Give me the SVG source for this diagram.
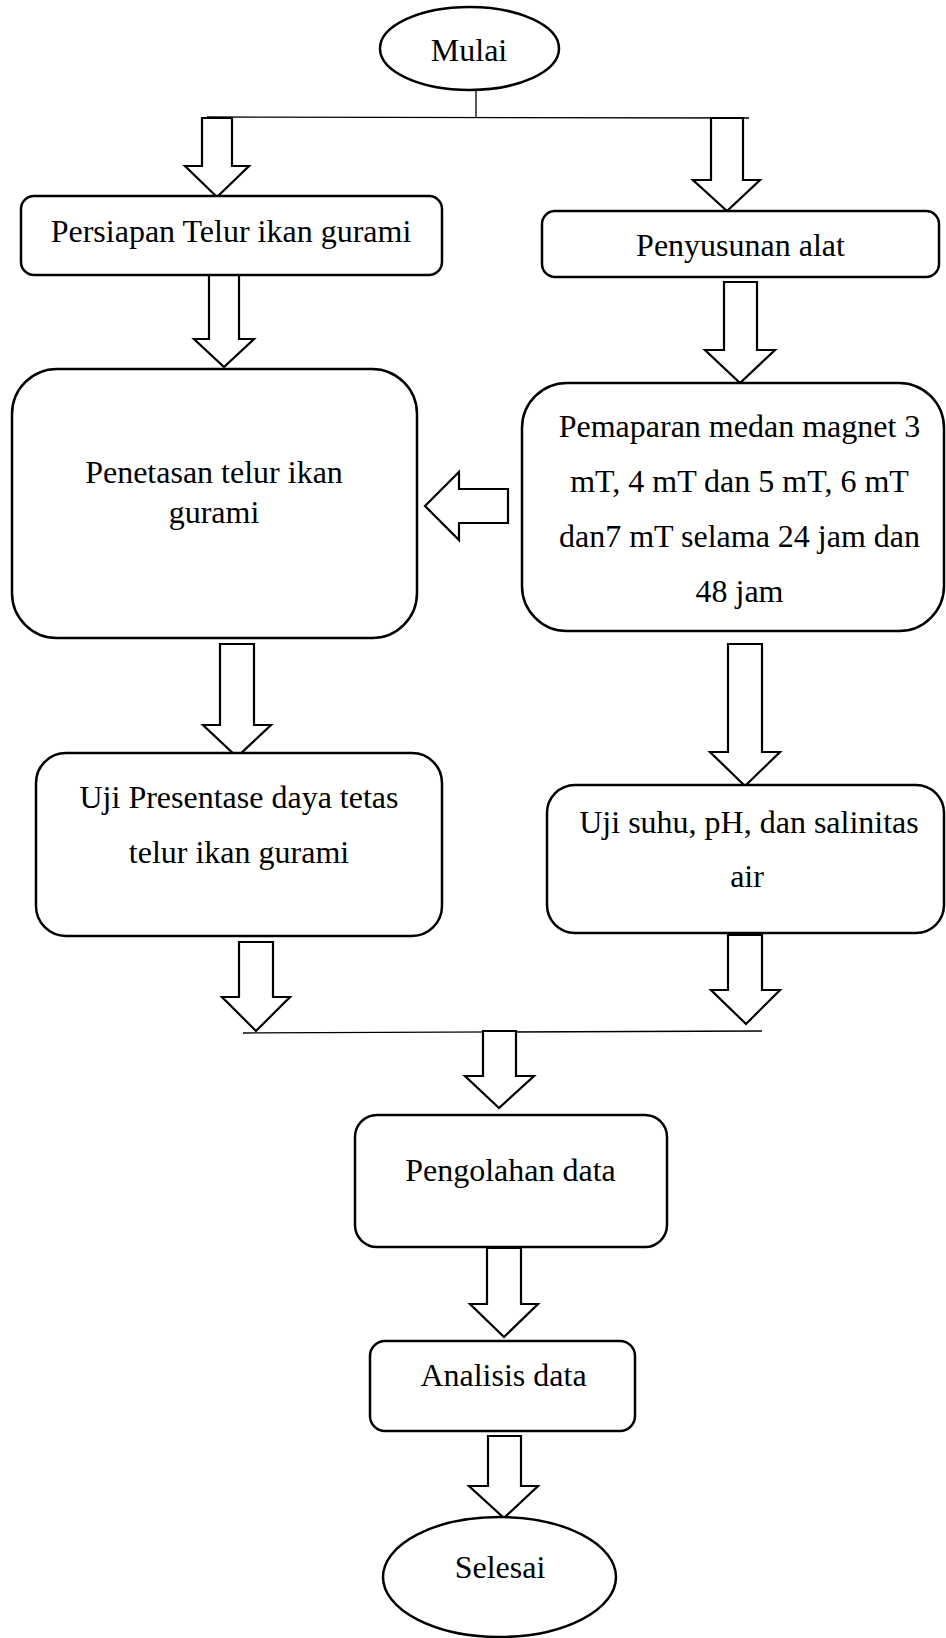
<svg xmlns="http://www.w3.org/2000/svg" width="946" height="1638" viewBox="0 0 946 1638">
<style>
.box{fill:#fff;stroke:#000;stroke-width:2.5}
.arr{fill:#fff;stroke:#000;stroke-width:2.2;stroke-linejoin:miter}
.ln{stroke:#000;stroke-width:1.3;fill:none}
text{font-family:"Liberation Serif","Times New Roman",serif;font-size:32px;fill:#000;text-anchor:middle}
</style>
<rect width="946" height="1638" fill="#fff"/>
<g id="connectors">
<line class="ln" x1="476" y1="90" x2="476" y2="118"/>
<line class="ln" x1="207" y1="117" x2="749" y2="118"/>
<line class="ln" x1="243" y1="1033" x2="762" y2="1031"/>
<polygon class="arr" points="202,118 232,118 232,166 249,166 217,197 185,166 202,166"/>
<polygon class="arr" points="711,118 743,118 743,180 760,180 727,211 693,180 711,180"/>
<polygon class="arr" points="209,275 239,275 239,339 254,339 224,367 194,339 209,339"/>
<polygon class="arr" points="724,282 757,282 757,350 775,350 740,383 705,350 724,350"/>
<polygon class="arr" points="508,489 508,523 459,523 459,540 425,506 459,472 459,489"/>
<polygon class="arr" points="220,644 254,644 254,725 271,725 237,757 203,725 220,725"/>
<polygon class="arr" points="728,644 762,644 762,752 780,752 745,786 710,752 728,752"/>
<polygon class="arr" points="239,942 273,942 273,997 290,997 256,1031 222,997 239,997"/>
<polygon class="arr" points="728,935 762,935 762,990 780,990 746,1024 711,990 728,990"/>
<polygon class="arr" points="483,1031 516,1031 516,1076 534,1076 499,1108 465,1076 483,1076"/>
<polygon class="arr" points="487,1248 521,1248 521,1304 538,1304 504,1337 470,1304 487,1304"/>
<polygon class="arr" points="488,1436 521,1436 521,1486 538,1486 504,1518 469,1486 488,1486"/>
</g>
<g id="mulai">
<ellipse class="box" cx="469.5" cy="48.5" rx="89.5" ry="41.5"/>
<text x="469" y="61">Mulai</text>
</g>
<g id="persiapan">
<rect class="box" x="21" y="196" width="421" height="79" rx="13"/>
<text x="231" y="242">Persiapan Telur ikan gurami</text>
</g>
<g id="penyusunan">
<rect class="box" x="542" y="211" width="397" height="66" rx="13"/>
<text x="740.5" y="256">Penyusunan alat</text>
</g>
<g id="penetasan">
<rect class="box" x="12" y="369" width="405" height="269" rx="45"/>
<text x="214" y="483">Penetasan telur ikan</text>
<text x="214" y="523">gurami</text>
</g>
<g id="pemaparan">
<rect class="box" x="522" y="383" width="422" height="248" rx="45"/>
<text x="739.5" y="437">Pemaparan medan magnet 3</text>
<text x="739.5" y="492">mT, 4 mT dan 5 mT, 6 mT</text>
<text x="739.5" y="547">dan7 mT selama 24 jam dan</text>
<text x="739.5" y="602">48 jam</text>
</g>
<g id="uji-presentase">
<rect class="box" x="36" y="753" width="406" height="183" rx="30"/>
<text x="239" y="808">Uji Presentase daya tetas</text>
<text x="239" y="863">telur ikan gurami</text>
</g>
<g id="uji-suhu">
<rect class="box" x="547" y="785" width="397" height="148" rx="28"/>
<text x="749" y="833">Uji suhu, pH, dan salinitas</text>
<text x="747" y="887">air</text>
</g>
<g id="pengolahan">
<rect class="box" x="355" y="1115" width="312" height="132" rx="22"/>
<text x="510.5" y="1181">Pengolahan data</text>
</g>
<g id="analisis">
<rect class="box" x="370" y="1341" width="265" height="90" rx="15"/>
<text x="503.5" y="1386">Analisis data</text>
</g>
<g id="selesai">
<ellipse class="box" cx="499.5" cy="1577" rx="116.5" ry="60"/>
<text x="500" y="1578">Selesai</text>
</g>
</svg>
